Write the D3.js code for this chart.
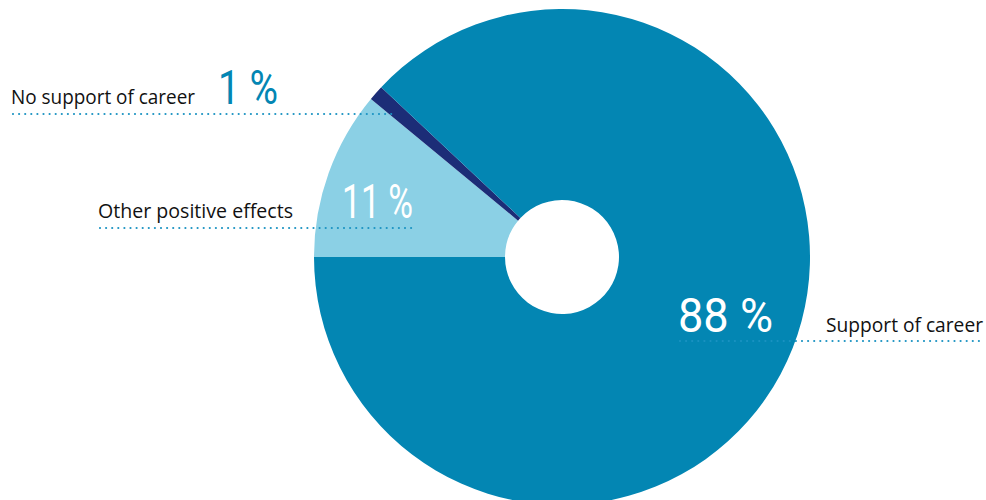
<!DOCTYPE html>
<html><head><meta charset="utf-8">
<script src="https://cdn.jsdelivr.net/npm/d3@7"></script>
<style>html,body{margin:0;padding:0;background:#fff;}svg{display:block;}</style>
</head><body>
<svg id="c" width="986" height="500"></svg>
<script>
const categories = ["Other positive effects", "No support of career", "Support of career"];
const values = [11, 1, 88];
const colors = ["#8bd0e5", "#1c2d77", "#0386b3"];

const W = 986, H = 500;
const cx = 562, cy = 257, R = 248, r0 = 57;
const svg = d3.select("#c");
const g = svg.append("g").attr("transform", `translate(${cx},${cy})`);

const pie = d3.pie().sort(null).value(d => d.v)
  .startAngle(-Math.PI / 2).endAngle(3 * Math.PI / 2);
const data = categories.map((c, i) => ({c, v: values[i], col: colors[i]}));
const arc = d3.arc().innerRadius(r0).outerRadius(R);
g.selectAll("path").data(pie(data)).join("path")
  .attr("d", arc).attr("fill", d => d.data.col);

const layout = {
  "No support of career":   {lx: 11,  lw: 184, ly: 104, px: 218, pw: 60, pc: "#0386b3", l1: 13,  l2: 397, ly2: 114},
  "Other positive effects": {lx: 98,  lw: 195, ly: 218, px: 342, pw: 71, pc: "#ffffff", l1: 100, l2: 414, ly2: 228},
  "Support of career":      {lx: 826, lw: 157, ly: 332, px: 678, pw: 95, pc: "#ffffff", l1: 680, l2: 983, ly2: 341}
};

const lab = svg.append("g");
data.forEach(d => {
  const L = layout[d.c];
  lab.append("line").attr("x1", L.l1).attr("x2", L.l2).attr("y1", L.ly2).attr("y2", L.ly2)
    .attr("stroke", "#1b93c2").attr("stroke-width", 2.2).attr("stroke-linecap", "round")
    .attr("stroke-dasharray", "0 6.1");
  lab.append("text").attr("x", L.lx).attr("y", L.ly)
    .attr("font-family", "Open Sans").attr("font-size", 19.2).attr("fill", "#111")
    .attr("textLength", L.lw).attr("lengthAdjust", "spacingAndGlyphs")
    .text(d.c);
  lab.append("text").attr("x", L.px).attr("y", L.ly).attr("font-family", "Roboto")
    .attr("font-weight", 400).attr("font-size", 48).attr("fill", L.pc)
    .attr("textLength", L.pw).attr("lengthAdjust", "spacingAndGlyphs")
    .text(d.v + " %");
});
</script>
</body></html>
